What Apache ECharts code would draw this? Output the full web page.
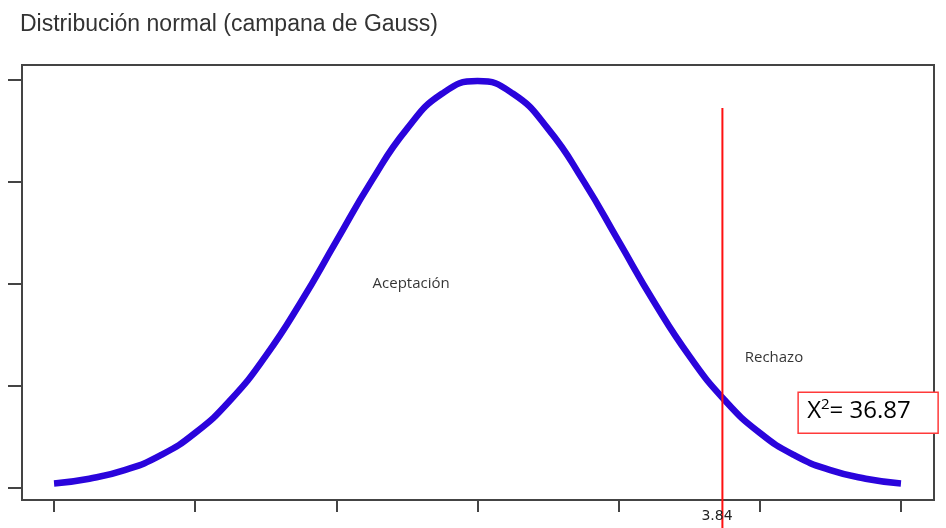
<!DOCTYPE html>
<html><head><meta charset="utf-8">
<script src="https://cdn.jsdelivr.net/npm/echarts@6/dist/echarts.min.js"></script>
<style>html,body{margin:0;padding:0;background:#fff}#c{width:946px;height:528px}</style>
</head><body><div id="c"></div>
<script>
var title = 'Distribución normal (campana de Gauss)';
var xValues = [-3,-2.75,-2.5,-2.25,-2,-1.75,-1.5,-1.25,-1,-0.75,-0.5,-0.25,0,0.25,0.5,0.75,1,1.25,1.5,1.75,2,2.25,2.5,2.75,3];
var yValues = [0.0044,0.0091,0.0175,0.0317,0.054,0.0863,0.1295,0.1826,0.242,0.3011,0.3521,0.3867,0.3989,0.3867,0.3521,0.3011,0.242,0.1826,0.1295,0.0863,0.054,0.0317,0.0175,0.0091,0.0044];
var xTicks = [-3,-2,-1,0,1,2,3];
var yTicks = [0,0.1,0.2,0.3,0.4];
var criticalX = 1.735;
var criticalTop = 0.3725;
var criticalLabel = '3.84';
var regionLabels = [{text:'Aceptación', x:-0.47, y:0.2}, {text:'Rechazo', x:2.1, y:0.128}];
var statPos = [2.762, 0.074];

var chart = echarts.init(document.getElementById('c'));
var pts = xValues.map(function(x,i){return [x,yValues[i]];});
chart.setOption({
  animation:false,
  title:{text:title,left:15,top:8,textStyle:{fontFamily:'Liberation Sans',fontWeight:'normal',fontSize:23,color:'#333'}},
  grid:{left:22,right:12,top:65,bottom:28,show:true,borderColor:'#444',borderWidth:2,backgroundColor:'transparent'},
  xAxis:{type:'value',min:-3.227,max:3.234,
    axisLine:{show:true,onZero:false,lineStyle:{color:'#444',width:2}},
    axisTick:{show:true,length:12,customValues:xTicks,lineStyle:{color:'#444',width:2}},
    axisLabel:{show:false},splitLine:{show:false}},
  yAxis:{type:'value',min:-0.0118,max:0.4147,
    axisLine:{show:true,onZero:false,lineStyle:{color:'#444',width:2}},
    axisTick:{show:true,length:14,customValues:yTicks,lineStyle:{color:'#444',width:2}},
    axisLabel:{show:false},splitLine:{show:false}},
  series:[{type:'line',data:pts,smooth:true,showSymbol:false,clip:false,
    lineStyle:{color:'#2a04dc',width:6.5}},
   {type:'scatter',symbolSize:0,silent:true,
    data:regionLabels.map(function(r){return {value:[r.x,r.y],label:{show:true,formatter:r.text,position:'inside',fontFamily:'Open Sans',fontSize:15,color:'#000'}};})
   }]
});
var top_ = chart.convertToPixel({gridIndex:0},[criticalX,criticalTop]);
var q = chart.convertToPixel({gridIndex:0},statPos);
chart.setOption({graphic:[
  {type:'line',shape:{x1:top_[0],y1:top_[1],x2:top_[0],y2:528},style:{stroke:'#ff1010',lineWidth:2},z:10},
  {type:'text',left:top_[0]-21,top:509,z:11,style:{text:criticalLabel,font:'14px "DejaVu Sans"',fill:'#222'}},
  {type:'group',left:q[0]-70,top:q[1]-21,z:12,children:[
    {type:'rect',shape:{x:0,y:0,width:140,height:41},style:{fill:'#fff',stroke:'#ff3a3a',lineWidth:1.5}},
    {type:'text',x:9,y:5,style:{rich:{a:{fontSize:24,fontFamily:'Open Sans',fill:'#000'},s:{fontSize:15,fontFamily:'Open Sans',fill:'#000',verticalAlign:'top',padding:[0,0,12,0]}},text:'{a|X}{s|2}{a|= 36.87}'}}
  ]}
]});
</script></body></html>
